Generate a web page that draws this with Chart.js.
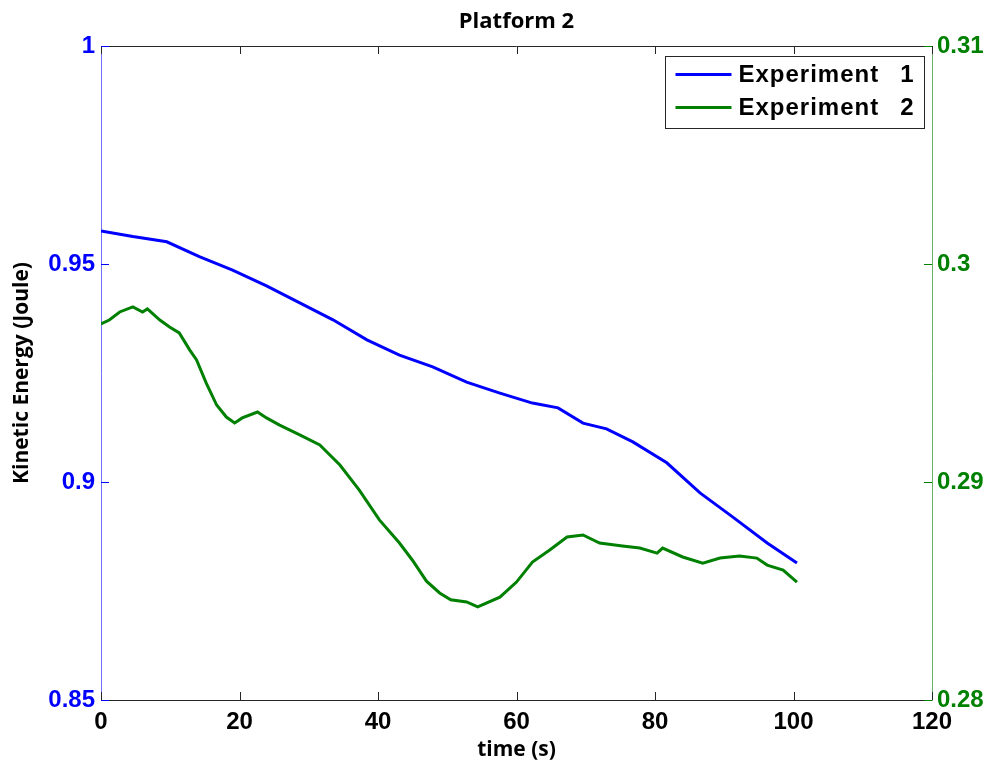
<!DOCTYPE html>
<html>
<head>
<meta charset="utf-8">
<title>Platform 2</title>
<script src="https://cdn.jsdelivr.net/npm/chart.js@4.4.1/dist/chart.umd.min.js"></script>
<style>
    html, body { margin: 0; padding: 0; background: #ffffff; }
    #wrap { width: 992px; height: 763px; }
</style>
</head>
<body>
<div id="wrap"><canvas id="energy-chart" width="992" height="763"></canvas></div>
<script>
// Experiment 1 (left axis)
const blueTime = [0, 4.6, 9.5, 14.2, 19, 23.9, 28.7, 33.5, 38.4, 43.1, 47.9, 52.8, 57.6, 62.3, 66, 69.6, 73, 76.8, 81.7, 86.5, 91.2, 96.2, 100.5];
const blueEnergy = [0.9576, 0.9563, 0.9551, 0.9517, 0.9486, 0.9450, 0.9411, 0.9372, 0.9326, 0.9291, 0.9264, 0.9229, 0.9204, 0.9181, 0.9170, 0.9135, 0.9122, 0.9092, 0.9044, 0.8975, 0.8920, 0.8860, 0.8814];

// Experiment 2 (right axis)
const greenTime = [0, 1.2, 2.7, 4.6, 6.0, 6.7, 8.5, 9.9, 11.3, 12.8, 13.8, 15.2, 16.7, 18.1, 19.3, 20.4, 22.6, 23.9, 25.8, 28.7, 31.6, 34.5, 37.3, 40.2, 43.1, 45, 47, 48.9, 50.5, 52.8, 54.4, 57.6, 60, 62.3, 64.8, 67.3, 69.6, 72, 75.3, 77.8, 80.3, 81.1, 84, 86.9, 89.4, 92.2, 94.7, 96.2, 98.5, 100.5];
const greenEnergy = [0.29725, 0.29743, 0.29780, 0.29803, 0.29780, 0.29794, 0.29743, 0.29711, 0.29684, 0.29606, 0.29560, 0.29454, 0.29353, 0.29298, 0.29271, 0.29294, 0.29321, 0.29294, 0.29261, 0.29216, 0.29170, 0.29078, 0.28963, 0.28826, 0.28720, 0.28640, 0.28545, 0.28491, 0.28460, 0.28450, 0.28427, 0.28472, 0.28541, 0.28633, 0.28688, 0.28748, 0.28757, 0.28720, 0.28706, 0.28697, 0.28674, 0.28697, 0.28656, 0.28628, 0.28651, 0.28661, 0.28651, 0.28619, 0.28596, 0.28541];

const seriesNames = ["Experiment   1", "Experiment   2"];
const xTicks = [0, 20, 40, 60, 80, 100, 120];
const leftTicks = [0.85, 0.9, 0.95, 1];
const rightTicks = [0.28, 0.29, 0.3, 0.31];

const chartTitle = "Platform 2";
const tickFont = { family: "'Liberation Sans', Arial, sans-serif", size: 24, weight: "bold" };
const labelFont = { family: "'Open Sans', sans-serif", size: 21, weight: "bold" };

function pairs(xs, ys) {
    return xs.map((x, i) => ({ x: x, y: ys[i] }));
}

function fmt(v) {
    return String(+v.toFixed(4));
}

// title, top edge, inward tick marks and the boxed legend
const matlabFrame = {
    id: "matlabFrame",
    afterDatasetsDraw(chart) {
        const { ctx, chartArea: a, scales } = chart;
        ctx.save();
        ctx.lineWidth = 1;
        const tl = 8;

        ctx.strokeStyle = "#262626";
        ctx.beginPath();
        ctx.moveTo(a.left, Math.round(a.top) + 0.5);
        ctx.lineTo(a.right, Math.round(a.top) + 0.5);
        xTicks.forEach(v => {
            const px = Math.round(scales.x.getPixelForValue(v)) + 0.5;
            ctx.moveTo(px, a.bottom);
            ctx.lineTo(px, a.bottom - tl);
            ctx.moveTo(px, a.top);
            ctx.lineTo(px, a.top + tl);
        });
        ctx.stroke();

        ctx.strokeStyle = "#0000ff";
        ctx.beginPath();
        leftTicks.forEach(v => {
            const py = Math.round(scales.y.getPixelForValue(v)) + 0.5;
            ctx.moveTo(a.left, py);
            ctx.lineTo(a.left + tl, py);
        });
        ctx.stroke();

        ctx.strokeStyle = "#008000";
        ctx.beginPath();
        rightTicks.forEach(v => {
            const py = Math.round(scales.y2.getPixelForValue(v)) + 0.5;
            ctx.moveTo(a.right, py);
            ctx.lineTo(a.right - tl, py);
        });
        ctx.stroke();

        // title centred over the plot
        ctx.fillStyle = "#000000";
        ctx.font = "bold 22px 'Open Sans', sans-serif";
        ctx.textAlign = "center";
        ctx.textBaseline = "middle";
        ctx.fillText(chartTitle, (a.left + a.right) / 2, a.top - 24);

        // legend box in the upper right corner
        const bw = 259, bh = 72;
        const bx = Math.round(a.right - 8 - bw) + 0.5;
        const by = Math.round(a.top + 10) + 0.5;
        ctx.fillStyle = "#ffffff";
        ctx.fillRect(bx, by, bw, bh);
        ctx.strokeStyle = "#262626";
        ctx.strokeRect(bx, by, bw, bh);
        ctx.font = "bold 24px 'Liberation Sans', Arial, sans-serif";
        ctx.letterSpacing = "1px";
        chart.data.datasets.forEach((ds, i) => {
            const ly = by + 18 + i * 33;
            ctx.strokeStyle = ds.borderColor;
            ctx.lineWidth = 3;
            ctx.beginPath();
            ctx.moveTo(bx + 10, ly);
            ctx.lineTo(bx + 66, ly);
            ctx.stroke();
            const cut = ds.label.lastIndexOf(" ");
            ctx.fillStyle = "#000000";
            ctx.textAlign = "left";
            ctx.fillText(ds.label.slice(0, cut).trim(), bx + 73, ly + 1);
            ctx.textAlign = "right";
            ctx.fillText(ds.label.slice(cut + 1), bx + bw - 10, ly + 1);
        });
        ctx.restore();
    }
};

let ctx = document.getElementById("energy-chart").getContext("2d");
new Chart(ctx, {
    type: "line",
    data: {
        datasets: [
            {
                label: seriesNames[0],
                data: pairs(blueTime, blueEnergy),
                borderColor: "#0000ff",
                borderWidth: 3,
                pointRadius: 0,
                tension: 0,
                yAxisID: "y"
            },
            {
                label: seriesNames[1],
                data: pairs(greenTime, greenEnergy),
                borderColor: "#008000",
                borderWidth: 3,
                pointRadius: 0,
                tension: 0,
                yAxisID: "y2"
            }
        ]
    },
    options: {
        responsive: false,
        animation: false,
        layout: { padding: { top: 46, left: 0, right: 0, bottom: 0 } },
        plugins: {
            legend: { display: false },
            title: { display: false },
            tooltip: { enabled: false }
        },
        scales: {
            x: {
                type: "linear",
                min: 0,
                max: 120,
                afterBuildTicks: s => { s.ticks = xTicks.map(v => ({ value: v })); },
                afterFit: s => { s.height = 63; },
                grid: { display: false, drawTicks: false },
                border: { color: "#262626", width: 1 },
                ticks: { color: "#000000", font: tickFont, padding: 8, maxRotation: 0, callback: v => fmt(v) },
                title: { display: true, text: "time (s)", color: "#000000", font: labelFont, padding: { top: 0, bottom: 0 } }
            },
            y: {
                type: "linear",
                position: "left",
                min: 0.85,
                max: 1,
                afterBuildTicks: s => { s.ticks = leftTicks.map(v => ({ value: v })); },
                afterFit: s => { s.width = 101; },
                grid: { display: false, drawTicks: false },
                border: { color: "#7070ff", width: 1 },
                ticks: { color: "#0000ff", font: tickFont, padding: 6, callback: v => fmt(v) },
                title: { display: true, text: "Kinetic Energy (Joule)", color: "#000000", font: labelFont, padding: { top: 9, bottom: 0 } }
            },
            y2: {
                type: "linear",
                position: "right",
                min: 0.28,
                max: 0.31,
                afterBuildTicks: s => { s.ticks = rightTicks.map(v => ({ value: v })); },
                afterFit: s => { s.width = 60; },
                grid: { display: false, drawTicks: false },
                border: { color: "#66b066", width: 1 },
                ticks: { color: "#008000", font: tickFont, padding: 5, callback: v => fmt(v) }
            }
        }
    },
    plugins: [matlabFrame]
});
</script>
</body>
</html>
